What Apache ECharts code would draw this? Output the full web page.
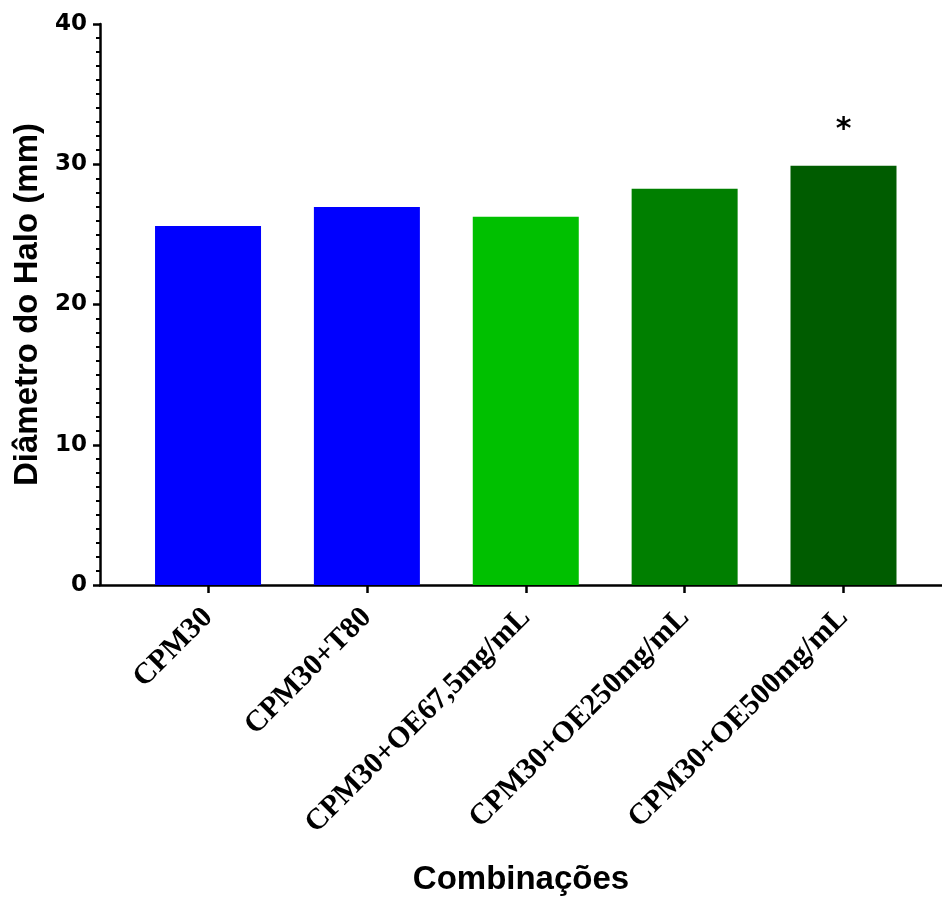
<!DOCTYPE html>
<html>
<head>
<meta charset="utf-8">
<script src="https://cdn.jsdelivr.net/npm/echarts@6/dist/echarts.min.js"></script>
<style>
  html, body { margin: 0; padding: 0; background: #fff; }
  #chart { width: 942px; height: 897px; }
</style>
</head>
<body>
<div id="chart"></div>
<script>
// Halo diameter per combination
const categories = ['CPM30', 'CPM30+T80', 'CPM30+OE67,5mg/mL', 'CPM30+OE250mg/mL', 'CPM30+OE500mg/mL'];
const haloValues = [25.6, 26.95, 26.25, 28.25, 29.9];
const significance = ['', '', '', '', '*'];
const yTicks = [0, 10, 20, 30, 40];

// Bar fill colours, one per category
const barColors = ['#0000FF', '#0000FF', '#00C000', '#007F00', '#005C00'];

const chart = echarts.init(document.getElementById('chart'), null, { renderer: 'canvas' });

const positions = categories.map((_, i) => i);

chart.setOption({
  backgroundColor: '#ffffff',
  animation: false,
  grid: { left: 100, right: 0, top: 24, bottom: 312, containLabel: false, outerBoundsMode: 'none' },
  xAxis: {
    type: 'value',
    min: -0.68,
    max: 4.62,
    name: 'Combinações',
    nameLocation: 'middle',
    nameGap: 278,
    nameTextStyle: { fontFamily: 'Liberation Sans', fontWeight: 'bold', fontSize: 33, color: '#000' },
    axisLine: { show: true, onZero: false, lineStyle: { color: '#000', width: 2.5 } },
    axisTick: { show: true, customValues: positions, length: 8, lineStyle: { color: '#000', width: 2.5 } },
    axisLabel: {
      customValues: positions,
      rotate: 45,
      margin: 28,
      formatter: v => categories[Math.round(v)] ?? '',
      fontFamily: 'Liberation Serif',
      fontWeight: 'bold',
      fontSize: 30,
      color: '#000'
    },
    splitLine: { show: false }
  },
  yAxis: {
    type: 'value',
    min: 0,
    max: 40,
    interval: 10,
    name: 'Diâmetro do Halo (mm)',
    nameLocation: 'middle',
    nameGap: 56,
    nameTextStyle: { fontFamily: 'Liberation Sans', fontWeight: 'bold', fontSize: 33, color: '#000' },
    axisLine: { show: true, onZero: false, lineStyle: { color: '#000', width: 2.5 } },
    axisTick: { show: true, length: 7, lineStyle: { color: '#000', width: 2.5 } },
    minorTick: { show: true, splitNumber: 10, length: 4, lineStyle: { color: '#000', width: 2 } },
    axisLabel: {
      margin: 13,
      formatter: v => (yTicks.includes(v) ? String(v) : ''),
      fontFamily: 'DejaVu Sans',
      fontWeight: 'bold',
      fontSize: 23,
      color: '#000'
    },
    splitLine: { show: false }
  },
  series: [{
    type: 'bar',
    barWidth: 106,
    data: haloValues.map((v, i) => ({
      value: [positions[i], v],
      itemStyle: { color: barColors[i] },
      label: {
        show: significance[i] !== '',
        position: 'top',
        distance: 20,
        formatter: () => significance[i],
        fontFamily: 'DejaVu Sans',
        fontWeight: 'bold',
        fontSize: 30,
        color: '#000'
      }
    }))
  }]
});
</script>
</body>
</html>
